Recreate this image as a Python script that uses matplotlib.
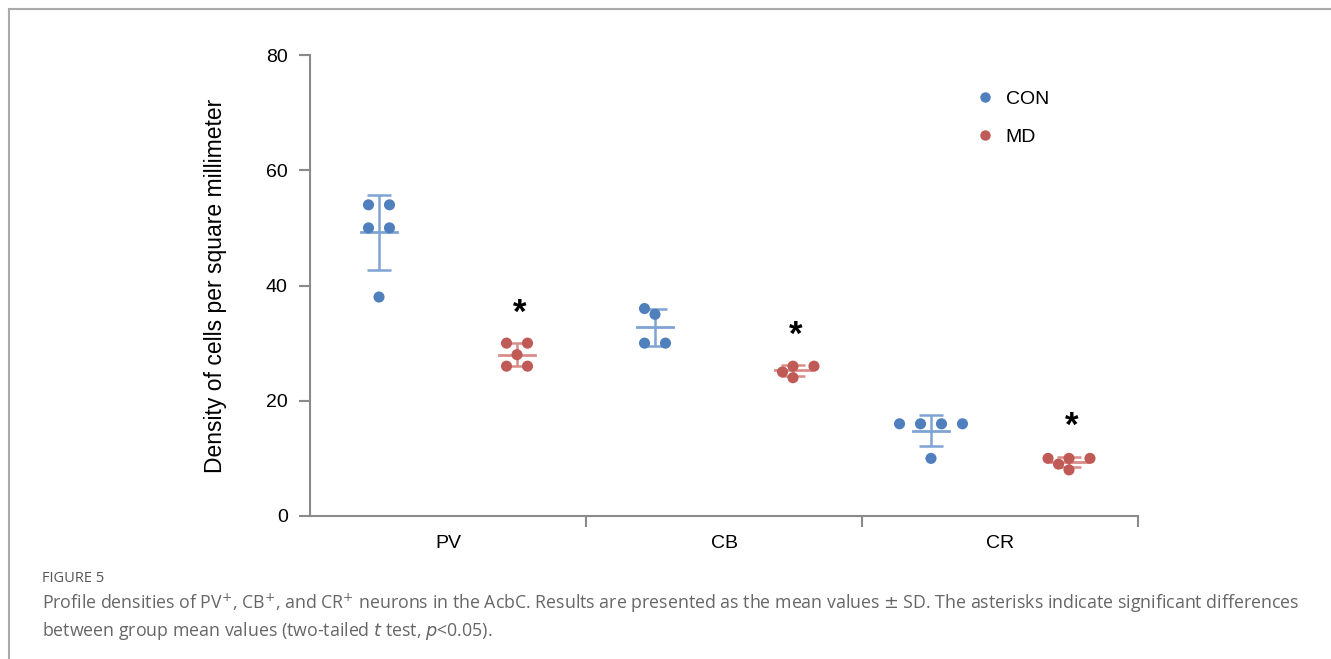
import numpy as np
import matplotlib
matplotlib.use('Agg')
from matplotlib import pyplot as plt
from matplotlib.lines import Line2D

categories = ['PV', 'CB', 'CR']
groups = ['CON', 'MD']

con_values = [
    [54, 54, 50, 50, 38],
    [36, 35, 30, 30],
    [16, 16, 16, 16, 10],
]
md_values = [
    [30, 30, 28, 26, 26],
    [25, 26, 26, 24],
    [10, 10, 10, 9, 8],
]
significant = [True, True, True]

# swarm layout (in dot-spacing steps), as arranged in the original
con_steps = [[-1, 1, -1, 1, 0], [-1, 0, -1, 1], [-3, -1, 1, 3, 0]]
md_steps = [[-1, 1, 0, -1, 1], [-1, 0, 2, 0], [-2, 0, 2, -1, 0]]

dot_colors = {'CON': '#4f7fbd', 'MD': '#bf5a57'}
bar_colors = {'CON': '#7fa3d3', 'MD': '#d98c89'}

plt.rcParams['font.family'] = ['Liberation Sans', 'DejaVu Sans']

fig = plt.figure(figsize=(13.31, 6.59), dpi=100)
ax = fig.add_axes([310 / 1331, 1 - 516 / 659, (1138 - 310) / 1331, (516 - 55) / 659])

step = 0.038
group_shift = 0.25
for gi, (name, vals, steps) in enumerate([('CON', con_values, con_steps), ('MD', md_values, md_steps)]):
    for ci, (v, st) in enumerate(zip(vals, steps)):
        center = ci + (gi * 2 - 1) * group_shift
        v = np.array(v, dtype=float)
        m = v.mean()
        sd = v.std(ddof=1)
        ax.plot([center - 0.065, center + 0.065], [m, m], color=bar_colors[name], lw=2, zorder=2)
        ax.errorbar(center, m, yerr=sd, color=bar_colors[name], lw=1.8, capsize=8.5,
                    capthick=1.8, fmt='none', zorder=2)
        ax.scatter(center + np.array(st) * step, v, s=64, color=dot_colors[name],
                   edgecolors='none', zorder=3)
        if name == 'MD' and significant[ci]:
            top = m + sd
            ax.text(center + 0.01, top + 5.2, '*', ha='center', va='center',
                    fontsize=25, fontweight='bold', color='black')

ax.set_xlim(-0.5, 2.5)
ax.set_ylim(0, 80)
ax.set_yticks([0, 20, 40, 60, 80])
ax.set_xticks(range(len(categories)))
ax.set_xticklabels(categories, fontsize=14)
ax.set_xticks([0.5, 1.5, 2.5], minor=True)
ax.tick_params(axis='x', which='major', length=0, pad=14)
ax.tick_params(axis='x', which='minor', length=8, width=1.5, color='#8a8a8a')
ax.tick_params(axis='y', length=8, width=1.5, color='#8a8a8a', labelsize=14, pad=8)
for s in ['top', 'right']:
    ax.spines[s].set_visible(False)
for s in ['left', 'bottom']:
    ax.spines[s].set_color('#8a8a8a')
    ax.spines[s].set_linewidth(1.5)
ax.set_ylabel('Density of cells per square millimeter', fontsize=16.5, labelpad=28)

handles = [Line2D([], [], marker='o', ls='none', markersize=7.5, color=dot_colors[g],
                  markeredgewidth=0) for g in groups]
ax.legend(handles, groups, loc='upper left', bbox_to_anchor=(0.771, 0.962), frameon=False,
          fontsize=14, handletextpad=0.05, labelspacing=1.05)

# figure frame
fig.add_artist(Line2D([9 / 1331, 9 / 1331], [0, 1 - 9 / 659], color='#aaaaaa', lw=1.5))
fig.add_artist(Line2D([9 / 1331, 1], [1 - 9 / 659, 1 - 9 / 659], color='#aaaaaa', lw=1.5))

cap_font = ['Open Sans', 'DejaVu Sans']
fig.text(42 / 1331, 1 - 578 / 659, 'FIGURE 5', fontsize=10.5, color='#555555',
         family=cap_font, va='center')
fig.text(42 / 1331, 1 - 603 / 659,
         'Profile densities of PV$^{+}$, CB$^{+}$, and CR$^{+}$ neurons in the AcbC. Results are presented '
         'as the mean values $\\pm$ SD. The asterisks indicate significant differences',
         fontsize=12.75, color='#666666', family=cap_font, va='center')
fig.text(42 / 1331, 1 - 631 / 659,
         'between group mean values (two-tailed $t$ test, $p$<0.05).',
         fontsize=12.75, color='#666666', family=cap_font, va='center')

fig.savefig('out.png', dpi=100)
